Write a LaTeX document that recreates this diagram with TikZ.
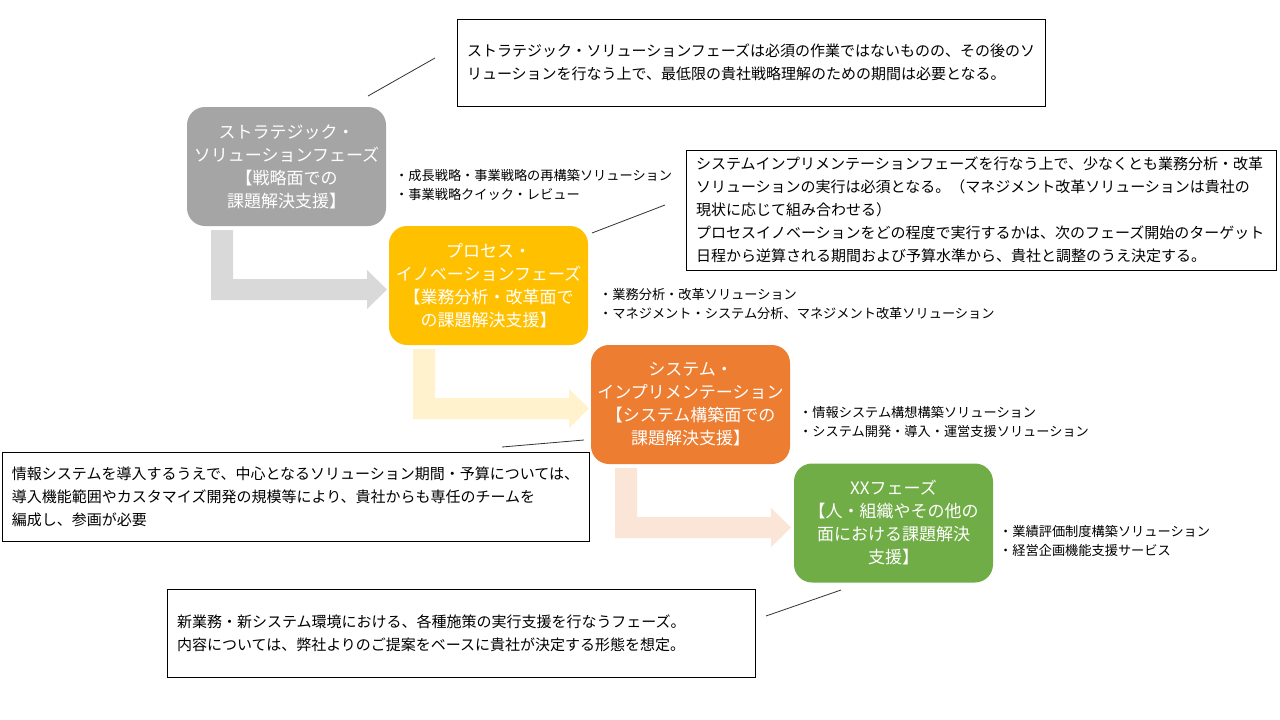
\documentclass[tikz,border=0pt]{standalone}
\usepackage{fontspec}
\setmainfont{Noto Sans CJK JP}
\definecolor{phgray}{HTML}{A5A5A5}
\definecolor{phyellow}{HTML}{FFC000}
\definecolor{phorange}{HTML}{ED7D31}
\definecolor{phgreen}{HTML}{70AD47}
\definecolor{argray}{HTML}{D9D9D9}
\definecolor{aryellow}{HTML}{FFF2CC}
\definecolor{arorange}{HTML}{FBE5D6}
\begin{document}
\begin{tikzpicture}[x=1pt,y=-1pt,
  phase/.style={rounded corners=18pt, minimum width=199pt, minimum height=119pt,
    text=white, align=center, font=\fontsize{17}{23}\selectfont, inner sep=0pt},
  note/.style={draw=black, line width=0.8pt, align=left, inner ysep=0pt,
    font=\fontsize{15}{23}\selectfont},
  bullets/.style={align=left, anchor=west, font=\fontsize{13.2}{19}\selectfont, inner sep=0pt},
  lead/.style={draw=black!80, line width=0.8pt}
]
\useasboundingbox (0,0) rectangle (1280,720);
\fill[white] (0,0) rectangle (1280,720);

% L-shaped block arrows
\foreach \L/\B/\c in {187/226/argray, 389/345/aryellow, 591/464/arorange}{
  \fill[\c, shift={(\L,\B)}] (24,4) -- (46,4) -- (46,53) -- (180,53) -- (180,44)
    -- (200,63.5) -- (180,83) -- (180,74) -- (24,74) -- cycle;
}

% phase boxes
\node[phase, fill=phgray] (p1) at (286.5,166.5) {ストラテジック・\\ソリューションフェーズ\\【戦略面での\\課題解決支援】};
\node[phase, fill=phyellow] (p2) at (488.5,285.5) {プロセス・\\イノベーションフェーズ\\【業務分析・改革面で\\の課題解決支援】};
\node[phase, fill=phorange] (p3) at (690.5,404.5) {システム・\\インプリメンテーション\\【システム構築面での\\課題解決支援】};
\node[phase, fill=phgreen] (p4) at (893.5,523) {XXフェーズ\\【人・組織やその他の\\面における課題解決\\支援】};

% bullet lists
\node[bullets] (b1) at (395,185) {・成長戦略・事業戦略の再構築ソリューション\\・事業戦略クイック・レビュー};
\node[bullets] (b2) at (599,304) {・業務分析・改革ソリューション\\・マネジメント・システム分析、マネジメント改革ソリューション};
\node[bullets] (b3) at (799,421.5) {・情報システム構想構築ソリューション\\・システム開発・導入・運営支援ソリューション};
\node[bullets] (b4) at (999,540.5) {・業績評価制度構築ソリューション\\・経営企画機能支援サービス};

% notes
\node[note, minimum width=588pt, minimum height=87pt, inner xsep=10pt, text width=568pt] (n1) at (751,62.5)
  {ストラテジック・ソリューションフェーズは必須の作業ではないものの、その後のソ\\リューションを行なう上で、最低限の貴社戦略理解のための期間は必要となる。};
\node[note, minimum width=590pt, minimum height=120pt, inner xsep=10pt, text width=570pt] (n2) at (981,210)
  {システムインプリメンテーションフェーズを行なう上で、少なくとも業務分析・改革\\ソリューションの実行は必須となる。（マネジメント改革ソリューションは貴社の\\現状に応じて組み合わせる）\\プロセスイノベーションをどの程度で実行するかは、次のフェーズ開始のターゲット\\日程から逆算される期間および予算水準から、貴社と調整のうえ決定する。};
\node[note, minimum width=587pt, minimum height=89pt, inner xsep=10pt, text width=567pt] (n3) at (295.5,496.5)
  {情報システムを導入するうえで、中心となるソリューション期間・予算については、\\導入機能範囲やカスタマイズ開発の規模等により、貴社からも専任のチームを\\編成し、参画が必要};
\node[note, minimum width=588pt, minimum height=88pt, inner xsep=10pt, text width=568pt] (n4) at (461,633)
  {新業務・新システム環境における、各種施策の実行支援を行なうフェーズ。\\内容については、弊社よりのご提案をベースに貴社が決定する形態を想定。};

% leader lines
\coordinate (l1a) at (368,96);  \coordinate (l1b) at (435,58);
\coordinate (l2a) at (592,233); \coordinate (l2b) at (665,205);
\coordinate (l3a) at (502,447); \coordinate (l3b) at (584,440);
\coordinate (l4a) at (766,616); \coordinate (l4b) at (841,590);
\draw[lead] (l1a) -- (l1b);
\draw[lead] (l2a) -- (l2b);
\draw[lead] (l3a) -- (l3b);
\draw[lead] (l4a) -- (l4b);
\end{tikzpicture}
\end{document}
